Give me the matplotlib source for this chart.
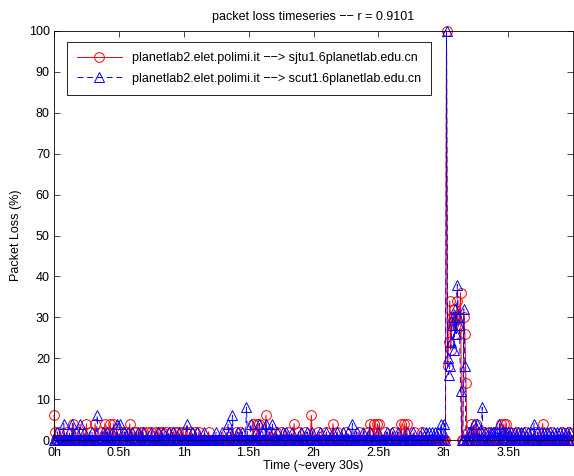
import numpy as np
import matplotlib
matplotlib.use('Agg')
import matplotlib.pyplot as plt

plt.rcParams['font.family'] = ['Liberation Sans', 'DejaVu Sans']
plt.rcParams['font.size'] = 9

# one sample roughly every 30 s; 480 samples ~ 4 hours
n_samples = 480

# non-zero loss samples (index, percent); everything else is 0
sjtu_idx = [0, 1, 5, 12, 18, 22, 30, 33, 38, 44, 47, 50, 52, 55, 58, 63, 66, 70, 74, 76,
            80, 82, 86, 90, 94, 97, 100, 104, 108, 112, 115, 118, 122, 126, 130, 134, 143,
            160, 168, 172, 184, 188, 190, 196, 200, 205, 210, 216, 222, 226, 232, 238, 244,
            252, 258, 262, 270, 282, 290, 292, 296, 299, 301, 306, 314, 321, 324, 326, 333,
            340, 363, 364, 365, 366, 367, 368, 369, 370, 371, 372, 373, 374, 375, 376, 379,
            380, 381, 383, 386, 388, 390, 393, 398, 402, 408, 413, 416, 418, 422, 428, 436,
            445, 452, 460, 470, 476]
sjtu_val = [6, 2, 2, 2, 4, 2, 4, 2, 4, 2, 4, 2, 4, 4, 2, 2, 2, 4, 2, 2,
            2, 2, 2, 2, 2, 2, 2, 2, 2, 2, 2, 2, 2, 2, 2, 2, 2,
            2, 2, 2, 4, 4, 4, 6, 2, 2, 2, 2, 4, 2, 2, 6, 2,
            2, 4, 2, 2, 2, 2, 4, 4, 4, 4, 2, 2, 4, 4, 4, 2,
            2, 100, 18, 24, 34, 22, 30, 28, 32, 26, 30, 34, 28, 30, 36, 30,
            26, 14, 2, 4, 2, 4, 2, 2, 2, 2, 4, 4, 4, 2, 2, 2,
            2, 4, 2, 2, 2]

scut_idx = [3, 9, 14, 17, 20, 24, 28, 35, 40, 45, 49, 54, 58, 61, 65, 68, 72, 78, 82, 90,
            96, 101, 106, 110, 116, 123, 128, 132, 139, 150, 155, 161, 163, 165, 170, 174,
            178, 182, 187, 190, 193, 196, 199, 202, 206, 212, 215, 220, 228, 234, 239, 246,
            252, 258, 262, 267, 272, 276, 280, 286, 292, 300, 308, 313, 318, 326, 332, 340,
            344, 347, 350, 352, 355, 358, 360, 361, 363, 364, 365, 366, 367, 368, 369, 370,
            371, 372, 373, 374, 375, 376, 379, 380, 384, 386, 388, 391, 393, 396, 399, 402,
            404, 406, 408, 410, 412, 414, 416, 418, 420, 423, 426, 429, 432, 435, 438, 441,
            444, 447, 450, 453, 456, 459, 462, 465, 468, 471, 474, 477]
scut_val = [2, 4, 2, 4, 2, 4, 2, 2, 6, 2, 2, 2, 4, 4, 2, 2, 2, 2, 2, 2,
            2, 2, 2, 2, 2, 4, 2, 2, 2, 2, 2, 4, 2, 6, 2, 2,
            8, 4, 2, 4, 2, 4, 2, 4, 2, 2, 2, 2, 2, 2, 2, 2,
            2, 2, 2, 2, 2, 4, 2, 2, 2, 2, 2, 2, 2, 2, 2, 2,
            2, 2, 2, 2, 2, 4, 2, 4, 100, 20, 16, 18, 24, 28, 30, 22,
            32, 26, 38, 30, 28, 12, 32, 18, 2, 2, 4, 4, 2, 8, 2, 2,
            2, 2, 2, 2, 4, 2, 2, 2, 2, 2, 2, 2, 2, 2, 2, 2,
            4, 2, 2, 2, 2, 2, 2, 2, 2, 2, 2, 2]

tick_pos = [0, 60, 120, 180, 240, 300, 360, 420]
tick_labels = ['0h', '0.5h', '1h', '1.5h', '2h', '2.5h', '3h', '3.5h']

sjtu = np.zeros(n_samples)
sjtu[sjtu_idx] = sjtu_val
scut = np.zeros(n_samples)
scut[scut_idx] = scut_val
t = np.arange(n_samples)

fig = plt.figure(figsize=(5.74, 4.76), dpi=100)
ax = fig.add_axes([0.0941, 0.0756, 0.9042, 0.8593])

arrow = ' \u2212\u2212> '
ax.plot(t, sjtu, color='r', lw=0.7, marker='o', ms=7, mfc='none', mew=0.7,
        clip_on=False, label='planetlab2.elet.polimi.it' + arrow + 'sjtu1.6planetlab.edu.cn')
ax.plot(t, scut, color='b', lw=0.7, ls=(0, (6, 4)), marker='^', ms=7, mfc='none', mew=0.7,
        clip_on=False, label='planetlab2.elet.polimi.it' + arrow + 'scut1.6planetlab.edu.cn')

ax.set_xlim(0, n_samples)
ax.set_ylim(0, 100)
ax.set_xticks(tick_pos)
ax.set_xticklabels(tick_labels)
ax.set_yticks(range(0, 101, 10))
ax.tick_params(direction='in', top=True, right=True, length=4, width=0.5)
ax.tick_params(axis='x', pad=5)
ax.tick_params(axis='y', pad=3)
for s in ax.spines.values():
    s.set_linewidth(0.6)

ax.set_xlabel('Time (~every 30s)', labelpad=1)
ax.set_ylabel('Packet Loss (%)', labelpad=5)
ax.set_title('packet loss timeseries \u2212\u2212 r = 0.9101', fontsize=9, pad=8)

leg = ax.legend(loc='upper left', bbox_to_anchor=(0.025, 0.973), borderaxespad=0,
                handlelength=3.6, borderpad=0.8, labelspacing=0.7,
                fancybox=False, framealpha=1)
leg.get_frame().set_edgecolor('k')
leg.get_frame().set_linewidth(0.6)

fig.savefig('out.png', dpi=100)
